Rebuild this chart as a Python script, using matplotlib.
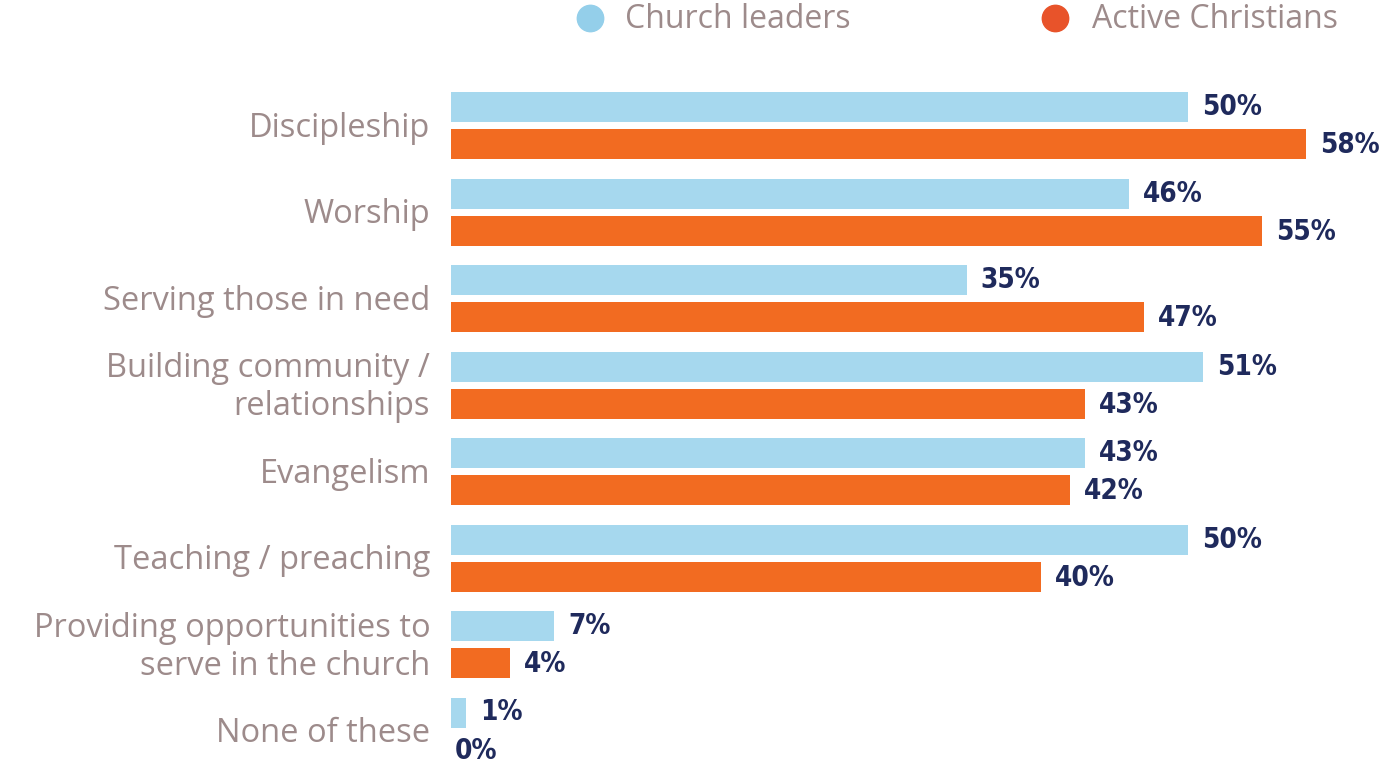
import matplotlib.pyplot as plt
import numpy as np

categories = ['Discipleship', 'Worship', 'Serving those in need',
              'Building community /\nrelationships', 'Evangelism',
              'Teaching / preaching', 'Providing opportunities to\nserve in the church',
              'None of these']
leaders = [50, 46, 35, 51, 43, 50, 7, 1]
christians = [58, 55, 47, 43, 42, 40, 4, 0]
series_names = ['Church leaders', 'Active Christians']

blue = '#a6d8ee'
orange = '#f26b21'
grey = '#9d8b8b'
navy = '#1f2a5c'
num_font = ['DejaVu Sans']
lab_font = ['Open Sans', 'DejaVu Sans']

fig = plt.figure(figsize=(13.79, 7.72), dpi=100)
ax = fig.add_axes([451 / 1379, 0, 928 / 1379, 1])

y = np.arange(len(categories))
h = 30 / 86.5
off = 18.5 / 86.5
ax.barh(y - off, leaders, height=h, color=blue)
ax.barh(y + off, christians, height=h, color=orange)

ax.set_xlim(0, 928 / 14.74)
ax.set_ylim((772 - 125.5) / 86.5, -125.5 / 86.5)

for yy, v in zip(y - off, leaders):
    ax.annotate(f'{v}%', (v, yy), xytext=(10 if v else 3, 0), textcoords='offset points',
                va='center', ha='left', fontsize=20, color=navy, family=num_font,
                fontweight='bold', fontstretch='condensed', annotation_clip=False)
for yy, v in zip(y + off, christians):
    ax.annotate(f'{v}%', (v, yy), xytext=(10 if v else 3, -1), textcoords='offset points',
                va='center', ha='left', fontsize=20, color=navy, family=num_font,
                fontweight='bold', fontstretch='condensed', annotation_clip=False)

for yy, c in zip(y, categories):
    ax.annotate(c, (0, yy), xytext=(-15, -2), textcoords='offset points',
                ha='right', va='center', fontsize=23.5, color=grey,
                family=lab_font, linespacing=1.2, annotation_clip=False)

ax.axis('off')

# legend drawn at the top
fig.text(625 / 1379, 1 - 19 / 772, series_names[0], ha='left', va='center',
         fontsize=23, color=grey, family=lab_font)
fig.text(1092 / 1379, 1 - 19 / 772, series_names[1], ha='left', va='center',
         fontsize=23, color=grey, family=lab_font)
fig.add_artist(plt.Line2D([590 / 1379], [1 - 18 / 772], marker='o', markersize=19,
                          color='#94cfea', transform=fig.transFigure))
fig.add_artist(plt.Line2D([1055 / 1379], [1 - 18 / 772], marker='o', markersize=19,
                          color='#e8532a', transform=fig.transFigure))

fig.savefig('out.png', dpi=100)
